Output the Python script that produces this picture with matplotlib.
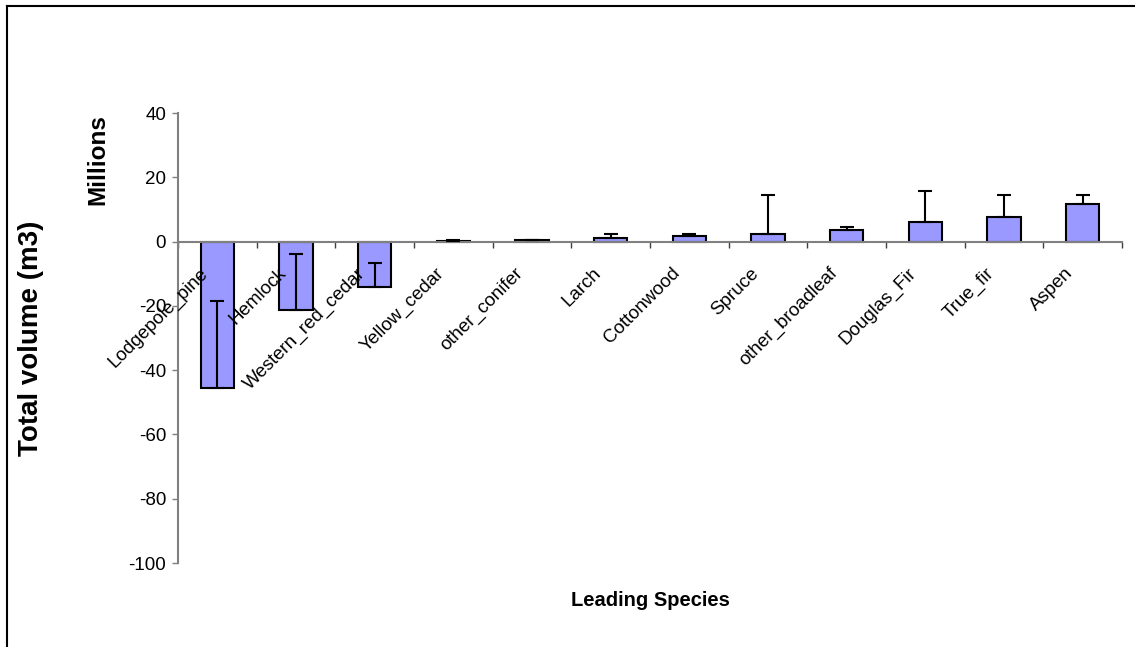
import matplotlib.pyplot as plt
import matplotlib.transforms as mtransforms
from matplotlib.lines import Line2D
import numpy as np

plt.rcParams['font.family'] = ['Liberation Sans', 'DejaVu Sans']
plt.rcParams['axes.unicode_minus'] = False

species = ['Lodgepole_pine', 'Hemlock', 'Western_red_cedar', 'Yellow_cedar',
           'other_conifer', 'Larch', 'Cottonwood', 'Spruce', 'other_broadleaf',
           'Douglas_Fir', 'True_fir', 'Aspen']
# total volume change, millions of m3
volume = [-45.5, -21.2, -14.1, 0.15, 0.4, 1.15, 1.8, 2.2, 3.45, 6.15, 7.8, 11.7]
# where the error bar cap sits
err_top = [-18.4, -3.8, -6.75, 0.5, 0.6, 2.2, 2.4, 14.6, 4.5, 15.6, 14.6, 14.6]

fig = plt.figure(figsize=(11.35, 6.47), dpi=100)
ax = fig.add_axes([178/1135, 1-563/647, 944/1135, 450/647])

x = np.arange(len(species))
vol = np.array(volume)
upper = np.array(err_top) - vol

ax.bar(x, vol, width=0.42, color='#9999FF', edgecolor='black', linewidth=1.5, zorder=2)
ax.errorbar(x, vol, yerr=[np.zeros_like(vol), upper], fmt='none', ecolor='black',
            elinewidth=1.5, capsize=4.7, capthick=1.5, zorder=3)

ax.set_xlim(-0.5, len(species) - 0.5)
ax.set_ylim(-100, 40)
ax.set_yticks(range(-100, 41, 20))
ax.tick_params(axis='y', direction='out', length=4.5, width=1, color='#808080',
               labelsize=13.5, pad=4)

ax.set_xticks(np.arange(-0.5, len(species), 1.0))
ax.set_xticklabels([])
ax.tick_params(axis='x', direction='out', length=4, width=1, color='#404040')

for s in ['top', 'right']:
    ax.spines[s].set_visible(False)
ax.spines['left'].set_color('#808080')
ax.spines['left'].set_linewidth(1.5)
ax.spines['bottom'].set_position(('data', 0))
ax.spines['bottom'].set_color('#808080')
ax.spines['bottom'].set_linewidth(1.5)

offs = mtransforms.offset_copy(ax.transData, fig=fig, x=-12, y=-29, units='dots')
for i, name in enumerate(species):
    ax.text(i, 0, name, transform=offs, rotation=45, rotation_mode='anchor',
            ha='right', va='center', fontsize=13.5, zorder=4)

fig.text(31/1135, 1-338/647, 'Total volume (m3)', rotation=90, fontsize=20,
         fontweight='bold', ha='center', va='center')
fig.text(98/1135, 1-160/647, 'Millions', rotation=90, fontsize=17.5,
         fontweight='bold', ha='center', va='center')
fig.text(650/1135, 1-600/647, 'Leading Species', fontsize=14.5,
         fontweight='bold', ha='center', va='center')

# outer chart frame (only top and left edges fall inside the picture)
fig.add_artist(Line2D([7/1135, 7/1135], [0, 1-6/647], color='black', linewidth=1.5))
fig.add_artist(Line2D([7/1135, 1], [1-6/647, 1-6/647], color='black', linewidth=1.5))

fig.savefig('out.png', dpi=100)
